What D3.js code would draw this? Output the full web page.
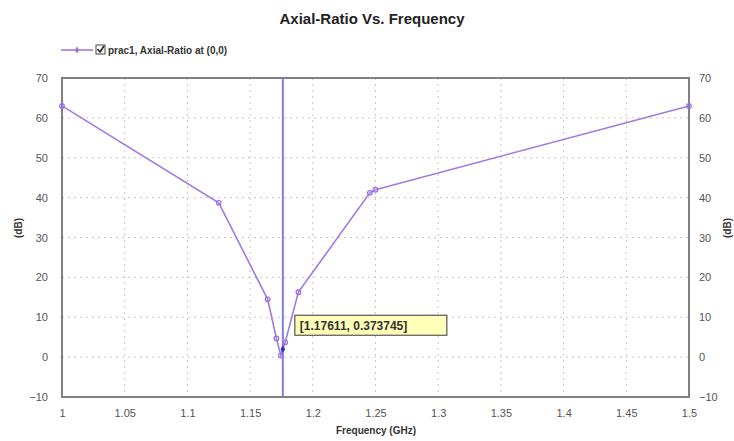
<!DOCTYPE html>
<html>
<head>
<meta charset="utf-8">
<script src="https://cdn.jsdelivr.net/npm/d3@7"></script>
<style>
  body { margin: 0; background: #fff; }
  svg { display: block; font-family: Arial, "Liberation Sans", sans-serif; }
</style>
</head>
<body>
<div id="chart"></div>
<script>
// data
const freq = [1.0, 1.125, 1.164, 1.171, 1.1745, 1.178, 1.1885, 1.2455, 1.25, 1.5]
const axialRatio = [63, 38.7, 14.5, 4.7, 0.4, 3.7, 16.3, 41.2, 42, 63]
const xTicks = [1, 1.05, 1.1, 1.15, 1.2, 1.25, 1.3, 1.35, 1.4, 1.45, 1.5]
const yTicks = [-10, 0, 10, 20, 30, 40, 50, 60, 70]
const cursor = [1.17611, 0.373745]

const width = 734, height = 441
const margin = {top: 78, right: 45, bottom: 44, left: 62}

const svg = d3.select("#chart").append("svg")
    .attr("width", width)
    .attr("height", height)

let x = d3.scaleLinear().domain([1, 1.5]).range([margin.left, width - margin.right])
let y = d3.scaleLinear().domain([-10, 70]).range([height - margin.bottom, margin.top])

// grid
svg.append("g").selectAll("line").data(xTicks.slice(1, -1)).enter()
    .append("line")
    .attr("x1", d => x(d)).attr("x2", d => x(d))
    .attr("y1", y(70)).attr("y2", y(-10))
    .attr("stroke", "#c8c8c8").attr("stroke-dasharray", "2,4")
svg.append("g").selectAll("line").data(yTicks.slice(1, -1)).enter()
    .append("line")
    .attr("x1", x(1)).attr("x2", x(1.5))
    .attr("y1", d => y(d)).attr("y2", d => y(d))
    .attr("stroke", "#c8c8c8").attr("stroke-dasharray", "2,4")

// axes
const xAxis = svg.append("g")
    .attr("transform", `translate(0,${y(-10)})`)
    .call(d3.axisBottom(x).tickValues(xTicks).tickFormat(d3.format("")).tickSize(0).tickPadding(12))
const yAxisL = svg.append("g")
    .attr("transform", `translate(${x(1)},0)`)
    .call(d3.axisLeft(y).tickValues(yTicks).tickSize(0).tickPadding(14))
const yAxisR = svg.append("g")
    .attr("transform", `translate(${x(1.5)},0)`)
    .call(d3.axisRight(y).tickValues(yTicks).tickSize(0).tickPadding(10))
;[xAxis, yAxisL, yAxisR].forEach(g => {
    g.select(".domain").remove()
    g.selectAll("text").attr("font-size", 11).attr("fill", "#555")
})

// frame
svg.append("rect")
    .attr("x", x(1)).attr("y", y(70))
    .attr("width", x(1.5) - x(1)).attr("height", y(-10) - y(70))
    .attr("fill", "none").attr("stroke", "#808080").attr("stroke-width", 2)

// cursor line
svg.append("line")
    .attr("x1", x(cursor[0])).attr("x2", x(cursor[0]))
    .attr("y1", y(70)).attr("y2", y(-10))
    .attr("stroke", "#7f7fe0").attr("stroke-width", 2)

// series
const pts = freq.map((f, i) => [f, axialRatio[i]])
const line = d3.line().x(d => x(d[0])).y(d => y(d[1]))
svg.append("path").datum(pts)
    .attr("d", line)
    .attr("fill", "none")
    .attr("stroke", "#a07ae2")
    .attr("stroke-width", 1.6)
svg.append("g").selectAll("circle").data(pts).enter()
    .append("circle")
    .attr("cx", d => x(d[0])).attr("cy", d => y(d[1]))
    .attr("r", 2.3)
    .attr("fill", "none")
    .attr("stroke", "#9c6fe0")
    .attr("stroke-width", 1.2)

// cursor marker
svg.append("path")
    .attr("d", d3.symbol(d3.symbolDiamond, 18)())
    .attr("transform", `translate(${x(cursor[0])},${y(2)})`)
    .attr("fill", "#3030d0")

// tooltip
const tip = svg.append("g").attr("transform", `translate(${x(cursor[0]) + 12},${y(10.5)})`)
tip.append("rect")
    .attr("x", 0).attr("y", 0).attr("width", 152).attr("height", 20)
    .attr("fill", "#ffffb8").attr("stroke", "#555").attr("stroke-width", 1.2)
tip.append("text")
    .attr("x", 5).attr("y", 15)
    .attr("font-size", 12).attr("font-weight", "bold").attr("fill", "#333")
    .text(`[${cursor[0]}, ${cursor[1]}]`)

// title
svg.append("text")
    .attr("x", 372).attr("y", 24)
    .attr("text-anchor", "middle")
    .attr("font-size", 15).attr("font-weight", "bold").attr("fill", "#222")
    .text("Axial-Ratio Vs. Frequency")

// legend
const lg = svg.append("g").attr("transform", "translate(61,50)")
lg.append("line").attr("x1", 0).attr("x2", 32).attr("y1", 0).attr("y2", 0)
    .attr("stroke", "#9c6fe0").attr("stroke-width", 1.5)
lg.append("path").attr("d", d3.symbol(d3.symbolDiamond, 14)())
    .attr("transform", "translate(16,0)").attr("fill", "#9c6fe0")
lg.append("rect").attr("x", 35).attr("y", -5).attr("width", 9).attr("height", 9)
    .attr("fill", "#fff").attr("stroke", "#444")
lg.append("path").attr("d", "M36.5,-1 L39,2 L43,-4")
    .attr("fill", "none").attr("stroke", "#222").attr("stroke-width", 1.6)
lg.append("text").attr("x", 47).attr("y", 4)
    .attr("font-size", 10).attr("font-weight", "bold").attr("fill", "#333")
    .text("prac1, Axial-Ratio at (0,0)")

// axis labels
svg.append("text")
    .attr("x", 376).attr("y", 434)
    .attr("text-anchor", "middle")
    .attr("font-size", 10).attr("font-weight", "bold").attr("fill", "#333")
    .text("Frequency (GHz)")
svg.append("text")
    .attr("transform", "translate(22,228) rotate(-90)")
    .attr("text-anchor", "middle")
    .attr("font-size", 10).attr("font-weight", "bold").attr("fill", "#333")
    .text("(dB)")
svg.append("text")
    .attr("transform", "translate(731,228) rotate(-90)")
    .attr("text-anchor", "middle")
    .attr("font-size", 10).attr("font-weight", "bold").attr("fill", "#333")
    .text("(dB)")
</script>
</body>
</html>
